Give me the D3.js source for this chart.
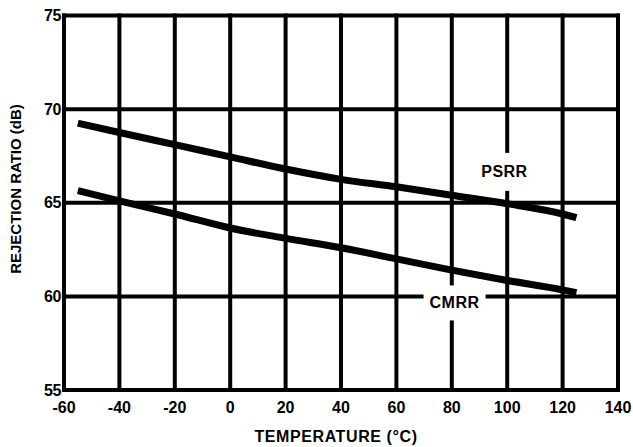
<!DOCTYPE html>
<html>
<head>
<meta charset="utf-8">
<script src="https://cdn.jsdelivr.net/npm/d3@7"></script>
<style>
  html, body { margin: 0; padding: 0; background: #fff; }
  svg { display: block; }
  text { font-family: "Liberation Sans", Arial, Helvetica, sans-serif; font-weight: bold; fill: #000; }
</style>
</head>
<body>
<svg id="chart" width="633" height="447"></svg>
<script>
// Temperature sample points (°C)
const temperatures = [-55, -40, -20, 0, 20, 40, 60, 80, 100, 120, 125];
// Power-supply rejection ratio (dB)
const psrr = [69.25, 68.75, 68.1, 67.45, 66.8, 66.25, 65.85, 65.4, 64.95, 64.4, 64.2];
// Common-mode rejection ratio (dB)
const cmrr = [65.65, 65.1, 64.4, 63.65, 63.1, 62.6, 62.0, 61.4, 60.85, 60.35, 60.2];

const xTicks = [-60, -40, -20, 0, 20, 40, 60, 80, 100, 120, 140];
const yTicks = [55, 60, 65, 70, 75];

const margin = { left: 64, right: 15, top: 15.5, bottom: 57 };
const W = 633, H = 447;

const svg = d3.select("#chart");
const x = d3.scaleLinear().domain([-60, 140]).range([margin.left, W - margin.right]);
const y = d3.scaleLinear().domain([55, 75]).range([H - margin.bottom, margin.top]);

// Grid
const grid = svg.append("g").attr("stroke", "#000").attr("stroke-width", 4);
grid.selectAll(".vg").data(xTicks).join("line")
  .attr("x1", d => x(d)).attr("x2", d => x(d))
  .attr("y1", y(75) - 2).attr("y2", y(55) + 2);
grid.selectAll(".hg").data(yTicks).join("line")
  .attr("x1", x(-60) - 2).attr("x2", x(140) + 2)
  .attr("y1", d => y(d)).attr("y2", d => y(d));

// Curve labels with white knock-out boxes
const labels = [
  { name: "PSRR", t: 99, v: 66.65, w: 58, h: 38 },
  { name: "CMRR", t: 81, v: 59.65, w: 62, h: 35 }
];
const lab = svg.append("g");
lab.selectAll("rect").data(labels).join("rect")
  .attr("x", d => x(d.t) - d.w / 2).attr("y", d => y(d.v) - d.h / 2)
  .attr("width", d => d.w).attr("height", d => d.h)
  .attr("fill", "#fff");

// Curves
const line = d3.line()
  .x((d, i) => x(temperatures[i]))
  .y(d => y(d))
  .curve(d3.curveMonotoneX);
[psrr, cmrr].forEach(series => {
  svg.append("path")
    .attr("d", line(series))
    .attr("fill", "none")
    .attr("stroke", "#000")
    .attr("stroke-width", 7)
    .attr("stroke-linecap", "butt");
});

lab.selectAll("text").data(labels).join("text")
  .attr("x", d => x(d.t)).attr("y", d => y(d.v))
  .attr("text-anchor", "middle").attr("dominant-baseline", "central")
  .attr("font-size", 16).attr("letter-spacing", 0.5)
  .text(d => d.name);

// Tick labels
svg.append("g").selectAll("text").data(yTicks).join("text")
  .attr("x", x(-60) - 3).attr("y", d => y(d))
  .attr("text-anchor", "end").attr("dominant-baseline", "central")
  .attr("font-size", 16).attr("letter-spacing", -0.4)
  .text(d => d);
svg.append("g").selectAll("text").data(xTicks).join("text")
  .attr("x", d => x(d)).attr("y", y(55) + 17)
  .attr("text-anchor", "middle").attr("dominant-baseline", "central")
  .attr("font-size", 16).attr("letter-spacing", 0)
  .text(d => d);

// Axis titles
svg.append("text")
  .attr("x", 336).attr("y", 436)
  .attr("text-anchor", "middle").attr("dominant-baseline", "central")
  .attr("font-size", 16).attr("letter-spacing", 0.6)
  .text("TEMPERATURE (°C)");
svg.append("text")
  .attr("transform", "translate(15,189) rotate(-90)")
  .attr("text-anchor", "middle").attr("dominant-baseline", "central")
  .attr("font-size", 15)
  .text("REJECTION RATIO (dB)");
</script>
</body>
</html>
